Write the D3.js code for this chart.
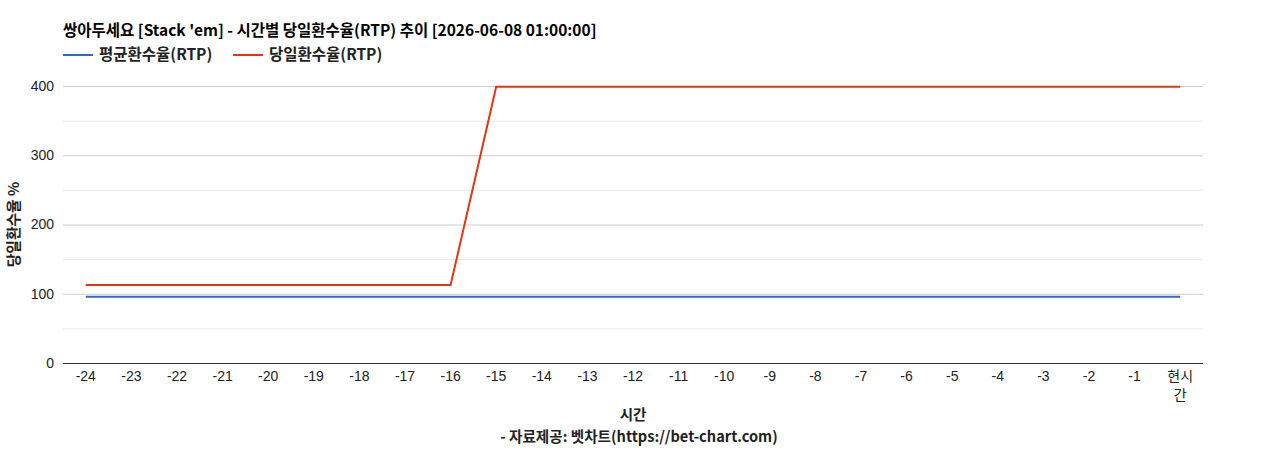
<!DOCTYPE html>
<html>
<head>
<meta charset="utf-8">
<script src="https://cdn.jsdelivr.net/npm/d3@7"></script>
<style>
  body { margin: 0; background: #fff; }
  svg text { font-family: "Liberation Sans", Arial, "Noto Sans CJK KR", sans-serif; }
  svg text.kr { font-family: "Noto Sans CJK KR", "Liberation Sans", sans-serif; }
</style>
</head>
<body>
<div id="chart"></div>
<script>
// categories: hours back from now
const hours = ['-24', '-23', '-22', '-21', '-20', '-19', '-18', '-17', '-16', '-15', '-14', '-13',
    '-12', '-11', '-10', '-9', '-8', '-7', '-6', '-5', '-4', '-3', '-2', '-1', '현시간'];

// 평균환수율 (average RTP)
const avgRtp = [95.7, 95.7, 95.7, 95.7, 95.7, 95.7, 95.7, 95.7, 95.7, 95.7, 95.7, 95.7,
    95.7, 95.7, 95.7, 95.7, 95.7, 95.7, 95.7, 95.7, 95.7, 95.7, 95.7, 95.7, 95.7];

// 당일환수율 (today RTP)
const dayRtp = [112.5, 112.5, 112.5, 112.5, 112.5, 112.5, 112.5, 112.5, 112.5, 398.8, 398.8, 398.8,
    398.8, 398.8, 398.8, 398.8, 398.8, 398.8, 398.8, 398.8, 398.8, 398.8, 398.8, 398.8, 398.8];

const yTicks = [0, 100, 200, 300, 400];
const yMinorTicks = [50, 150, 250, 350];

const seriesNames = ['평균환수율(RTP)', '당일환수율(RTP)'];
const seriesColors = ['#3366cc', '#dc3912'];

const W = 1268, H = 450;
const plot = { left: 63, right: 1203, top: 86, bottom: 363 };

const svg = d3.select('#chart').append('svg')
    .attr('width', W).attr('height', H);

const x = d3.scalePoint()
    .domain(hours)
    .range([plot.left, plot.right])
    .padding(0.5);

const y = d3.scaleLinear()
    .domain([0, 400])
    .range([plot.bottom, plot.top]);

// gridlines
svg.append('g').selectAll('line.minor')
    .data(yMinorTicks).join('line')
    .attr('x1', plot.left).attr('x2', plot.right)
    .attr('y1', d => y(d) + 0.5).attr('y2', d => y(d) + 0.5)
    .attr('stroke', '#ebebeb').attr('stroke-width', 1);

svg.append('g').selectAll('line.major')
    .data(yTicks.filter(d => d !== 0)).join('line')
    .attr('x1', plot.left).attr('x2', plot.right)
    .attr('y1', d => y(d) + 0.5).attr('y2', d => y(d) + 0.5)
    .attr('stroke', '#cccccc').attr('stroke-width', 1);

// y tick labels
svg.append('g').selectAll('text')
    .data(yTicks).join('text')
    .attr('x', plot.left - 9)
    .attr('y', d => y(d))
    .attr('dy', '0.35em')
    .attr('text-anchor', 'end')
    .attr('font-size', '14px')
    .attr('fill', '#222')
    .text(d => d);

// x tick labels (wrap 현시간 to two lines)
const xLabels = svg.append('g');
hours.forEach(h => {
    const t = xLabels.append('text')
        .attr('x', x(h))
        .attr('y', 381)
        .attr('text-anchor', 'middle')
        .attr('font-size', '14px')
        .attr('fill', '#222');
    if (h.length > 2 && !h.startsWith('-')) {
        t.append('tspan').attr('x', x(h)).attr('dy', 0).text(h.slice(0, 2));
        t.append('tspan').attr('x', x(h)).attr('dy', 19).text(h.slice(2));
    } else {
        t.text(h);
    }
});

// lines
const line = d3.line()
    .x((d, i) => x(hours[i]))
    .y(d => y(d));

[avgRtp, dayRtp].forEach((vals, i) => {
    svg.append('path')
        .datum(vals)
        .attr('d', line)
        .attr('fill', 'none')
        .attr('stroke', seriesColors[i])
        .attr('stroke-width', 2);
});

// baseline
svg.append('line')
    .attr('x1', plot.left).attr('x2', plot.right)
    .attr('y1', plot.bottom + 0.5).attr('y2', plot.bottom + 0.5)
    .attr('stroke', '#333').attr('stroke-width', 1);

// title
svg.append('text').attr('class', 'kr')
    .attr('x', plot.left).attr('y', 36)
    .attr('font-size', '15.5px').attr('font-weight', 'bold').attr('fill', '#000')
    .text("쌍아두세요 [Stack 'em] - 시간별 당일환수율(RTP) 추이 [2026-06-08 01:00:00]");

// legend
const legendX = [63, 233];
seriesNames.forEach((name, i) => {
    const g = svg.append('g').attr('transform', `translate(${legendX[i]}, 55)`);
    g.append('line').attr('x1', 0).attr('x2', 30).attr('y1', 0).attr('y2', 0)
        .attr('stroke', seriesColors[i]).attr('stroke-width', 2);
    g.append('text').attr('class', 'kr').attr('x', 36).attr('y', 0).attr('dy', '0.35em')
        .attr('font-size', '15.5px').attr('font-weight', 'bold').attr('fill', '#222')
        .text(name);
});

// y axis title
svg.append('text').attr('class', 'kr')
    .attr('transform', `translate(19, ${(plot.top + plot.bottom) / 2}) rotate(-90)`)
    .attr('text-anchor', 'middle')
    .attr('font-size', '14.8px').attr('font-weight', 'bold').attr('fill', '#222')
    .text('당일환수율 %');

// x axis title + source
svg.append('text').attr('class', 'kr')
    .attr('x', (plot.left + plot.right) / 2).attr('y', 420)
    .attr('text-anchor', 'middle')
    .attr('font-size', '14.5px').attr('font-weight', 'bold').attr('fill', '#222')
    .text('시간');

svg.append('text').attr('class', 'kr')
    .attr('x', (plot.left + plot.right) / 2 + 6).attr('y', 442)
    .attr('text-anchor', 'middle')
    .attr('font-size', '14.6px').attr('font-weight', 'bold').attr('fill', '#222')
    .text('- 자료제공: 벳차트(https://bet-chart.com)');
</script>
</body>
</html>
